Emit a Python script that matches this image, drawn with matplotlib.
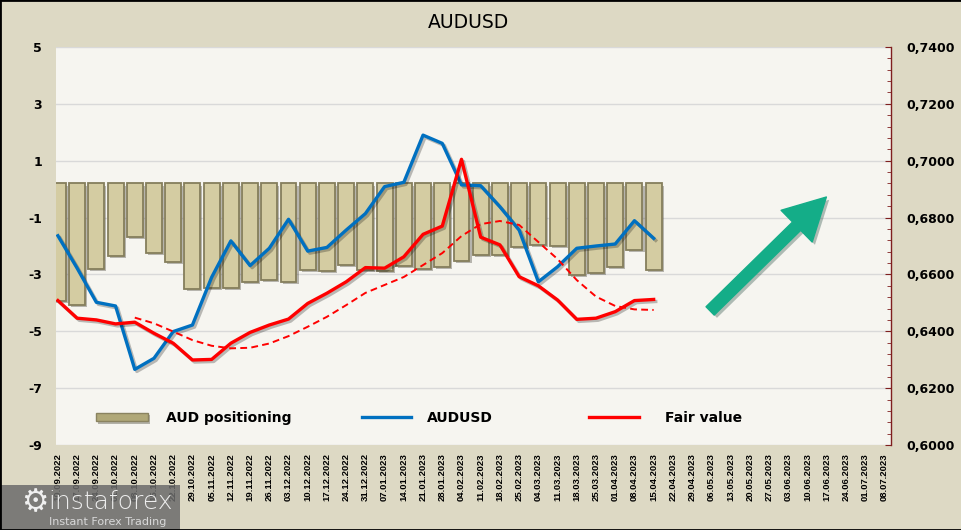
import numpy as np
import matplotlib
matplotlib.use("Agg")
import matplotlib.pyplot as plt
import matplotlib.patheffects as pe
from matplotlib.patches import Patch, Rectangle, FancyArrowPatch
from matplotlib.lines import Line2D
from matplotlib.ticker import FuncFormatter, MultipleLocator

plt.rcParams['axes.unicode_minus'] = False

# weekly dates on the category axis
dates = ['10.09.2022', '17.09.2022', '24.09.2022', '01.10.2022', '08.10.2022', '15.10.2022',
         '22.10.2022', '29.10.2022', '05.11.2022', '12.11.2022', '19.11.2022', '26.11.2022',
         '03.12.2022', '10.12.2022', '17.12.2022', '24.12.2022', '31.12.2022', '07.01.2023',
         '14.01.2023', '21.01.2023', '28.01.2023', '04.02.2023', '11.02.2023', '18.02.2023',
         '25.02.2023', '04.03.2023', '11.03.2023', '18.03.2023', '25.03.2023', '01.04.2023',
         '08.04.2023', '15.04.2023', '22.04.2023', '29.04.2023', '06.05.2023', '13.05.2023',
         '20.05.2023', '27.05.2023', '03.06.2023', '10.06.2023', '17.06.2023', '24.06.2023',
         '01.07.2023', '08.07.2023']

# AUD positioning (left axis)
positioning = [-3.93, -4.07, -2.81, -2.34, -1.69, -2.26, -2.55, -3.51, -3.47, -3.47, -3.26,
               -3.19, -3.27, -2.83, -2.87, -2.66, -2.84, -2.87, -2.70, -2.81, -2.73, -2.53,
               -2.30, -2.32, -2.03, -1.95, -1.99, -3.03, -2.94, -2.73, -2.14, -2.84]

# AUDUSD spot (right axis)
audusd = [0.6736, 0.6622, 0.6502, 0.6489, 0.6266, 0.6305, 0.6399, 0.6422, 0.6590, 0.6718,
          0.6631, 0.6692, 0.6794, 0.6682, 0.6695, 0.6756, 0.6814, 0.6909, 0.6924, 0.7090,
          0.7061, 0.6915, 0.6912, 0.6838, 0.6756, 0.6574, 0.6627, 0.6692, 0.6700, 0.6707,
          0.6789, 0.6727]

# fair value (right axis)
fair = [0.6508, 0.6446, 0.6440, 0.6426, 0.6432, 0.6393, 0.6358, 0.6299, 0.6301, 0.6358,
        0.6396, 0.6422, 0.6443, 0.6498, 0.6534, 0.6574, 0.6624, 0.6622, 0.6662, 0.6741,
        0.6770, 0.7005, 0.6731, 0.6704, 0.6592, 0.6560, 0.6510, 0.6442, 0.6446, 0.6469,
        0.6508, 0.6512]

# smoothed fair value (dashed)
fair_trend = [np.nan, np.nan, np.nan, np.nan, 0.6448, 0.6428, 0.6399, 0.6369, 0.6349, 0.6340,
              0.6342, 0.6357, 0.6383, 0.6416, 0.6451, 0.6492, 0.6535, 0.6563, 0.6591, 0.6633,
              0.6675, 0.6735, 0.6777, 0.6788, 0.6774, 0.6714, 0.6654, 0.6580, 0.6522, 0.6489,
              0.6477, 0.6475]

BG = '#DDD9C4'
PLOT_BG = '#F6F5F0'
BAR_FACE = '#D4CCA2'
BAR_EDGE = '#857E5C'
BLUE = '#0070C0'
RED = '#FF0000'
BAR_BASE = 0.2

fig = plt.figure(figsize=(9.62, 5.30), dpi=100, facecolor=BG)
ax = fig.add_axes([0.0582, 0.1604, 0.8680, 0.7509])
ax.set_facecolor(PLOT_BG)
ax2 = ax.twinx()

x = np.arange(len(dates))
xp = np.arange(len(positioning))

shadow_bar = [pe.withSimplePatchShadow(offset=(1.5, -1.5), alpha=0.35)]
bars = ax.bar(xp, np.array(positioning) - BAR_BASE, bottom=BAR_BASE, width=0.83,
              color=BAR_FACE, edgecolor=BAR_EDGE, linewidth=1.3, zorder=2)
for b in bars:
    b.set_path_effects(shadow_bar)

line_shadow = [pe.SimpleLineShadow(offset=(1.5, -1.5), alpha=0.25), pe.Normal()]
ax2.plot(xp, audusd, color=BLUE, lw=2.4, path_effects=line_shadow, zorder=3)
ax2.plot(xp, fair, color=RED, lw=2.4, path_effects=line_shadow, zorder=3)
ax2.plot(xp, fair_trend, color=RED, lw=1.4, ls=(0, (3.5, 2.2)), zorder=3)

ax.set_xlim(-0.1, 43.35)
ax.set_ylim(-9, 5)
ax2.set_ylim(0.60, 0.74)
ax.set_yticks(np.arange(-9, 6, 2))
ax2.yaxis.set_major_locator(MultipleLocator(0.02))
ax2.yaxis.set_minor_locator(MultipleLocator(0.004))
ax2.yaxis.set_major_formatter(FuncFormatter(lambda v, p: f"{v:.4f}".replace('.', ',')))

ax.grid(axis='y', color='#D9D9D9', lw=1)
ax.set_axisbelow(True)

ax.set_xticks(x)
ax.set_xticklabels(dates, rotation=90, fontsize=6.8, fontweight='bold',
                   family=['Liberation Sans', 'DejaVu Sans'])
ax.tick_params(axis='x', length=0, pad=6)
ax.tick_params(axis='y', length=0, pad=10, labelsize=9)
for lab in ax.get_yticklabels():
    lab.set_fontweight('bold')
ax2.tick_params(axis='y', which='both', direction='in', color='#7F1F1F', labelsize=9, pad=11)
ax2.tick_params(axis='y', which='major', length=4)
ax2.tick_params(axis='y', which='minor', length=3)
for lab in ax2.get_yticklabels():
    lab.set_fontweight('bold')

for s in ax.spines.values():
    s.set_visible(False)
for name, s in ax2.spines.items():
    s.set_visible(name == 'right')
ax2.spines['right'].set_color('#7F1F1F')
ax2.spines['right'].set_linewidth(1)

# legend entries
leg_kw = dict(frameon=False, prop={'weight': 'bold', 'size': 10},
              loc='center left', borderpad=0, borderaxespad=0)
h1 = Patch(facecolor='#B0A878', edgecolor='#8A8360')
h1.set_path_effects(shadow_bar)
l1 = ax2.legend([h1], ['AUD positioning'], bbox_to_anchor=(0.0474, 0.068),
                handlelength=3.8, handleheight=0.6, handletextpad=1.3, **leg_kw)
ax2.add_artist(l1)
l2 = ax2.legend([Line2D([], [], color=BLUE, lw=2.4)], ['AUDUSD'], bbox_to_anchor=(0.3665, 0.068),
                handlelength=3.5, handletextpad=1.15, **leg_kw)
ax2.add_artist(l2)
ax2.legend([Line2D([], [], color=RED, lw=2.4)], ['Fair value'], bbox_to_anchor=(0.6383, 0.068),
           handlelength=3.6, handletextpad=1.9, **leg_kw)

# green arrow
arrow = FancyArrowPatch((0.781, 0.332), (0.925, 0.628), transform=ax2.transAxes,
                        arrowstyle='simple,head_length=1.5,head_width=1.6,tail_width=0.42',
                        mutation_scale=20, color='#14AD88', zorder=5)
arrow.set_path_effects([pe.withSimplePatchShadow(offset=(2, -2), alpha=0.3)])
ax2.add_patch(arrow)

fig.text(0.4875, 0.957, 'AUDUSD', ha='center', va='center', fontsize=13.5)

# watermark
fig.patches.append(Rectangle((0, 0), 180 / 962, 45 / 530, transform=fig.transFigure,
                             facecolor='#6B6B6B', alpha=0.85, zorder=10))
fig.text(0.036, 0.052, '\u2699', color='#F0F0F0', fontsize=22, ha='center', va='center', zorder=11)
fig.text(0.050, 0.053, 'instaforex', color='#EDEDED', fontsize=18, ha='left', va='center',
         fontweight='light', zorder=11)
fig.text(0.051, 0.016, 'Instant Forex Trading', color='#D8D8D8', fontsize=8, ha='left',
         va='center', zorder=11)

# outer frame
fig.patches.append(Rectangle((0, 0), 1, 1, transform=fig.transFigure, fill=False,
                             edgecolor='black', lw=2, zorder=12))

fig.savefig('out.png', dpi=100, facecolor=BG)
